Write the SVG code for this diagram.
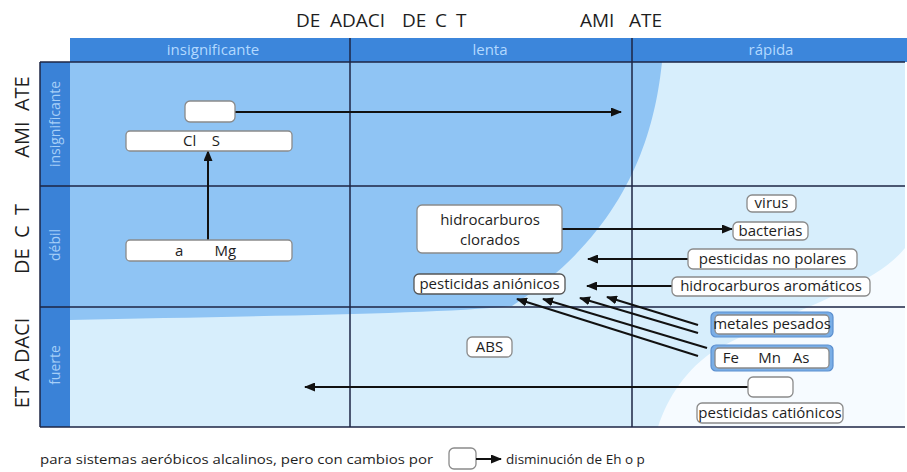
<svg xmlns="http://www.w3.org/2000/svg" width="907" height="472" viewBox="0 0 907 472">
<style>
text{font-family:"Open Sans","Liberation Sans",sans-serif;fill:#1e1e1e}
.title{font-size:19px}
.axis{font-size:20px}
.hdr{font-size:15px;fill:#b3d9ff}
.side{font-size:14px;fill:#a6cff7}
.lbl{font-size:15px}
.box{fill:#fff;stroke:#8a8a8a;stroke-width:1.3}
.dbox{fill:#fff;stroke:#555;stroke-width:1.3}
.grid{stroke:#1c2545;stroke-width:1.5;fill:none}
.conn{stroke:#111;stroke-width:2;fill:none}
</style>
<defs>
<marker id="ah" markerUnits="userSpaceOnUse" markerWidth="11" markerHeight="9" viewBox="0 0 11 9" refX="10" refY="4.5" orient="auto">
<path d="M0,0 L11,4.5 L0,9 z" fill="#111"/>
</marker>
</defs>
<rect x="0" y="0" width="907" height="472" fill="#fff"/>
<g id="title">
<text class="title" y="27" xml:space="preserve"><tspan x="296">DE </tspan><tspan x="330">ADACI </tspan><tspan x="402">DE </tspan><tspan x="435">C </tspan><tspan x="456">T </tspan><tspan x="580">AMI </tspan><tspan x="629">ATE</tspan></text>
</g>
<g id="axis-left">
<text class="axis" transform="translate(29,117) rotate(-90)" text-anchor="middle" xml:space="preserve">AMI  ATE</text>
<text class="axis" transform="translate(29,239) rotate(-90)" text-anchor="middle" xml:space="preserve">DE  C  T</text>
<text class="axis" transform="translate(29,363) rotate(-90)" text-anchor="middle" xml:space="preserve">ET A DACI</text>
</g>
<g id="background">
<rect x="70" y="62" width="835" height="365" fill="#8fc4f4"/>
<path d="M662,62 C655,130 630,230 512,306 C440,314 250,316 70,320 L70,427 L905,427 L905,62 Z" fill="#d7eefc"/>
<path d="M905,248 C872,290 770,318 712,352 C680,375 665,405 658,427 L905,427 Z" fill="#f6fbff"/>
<rect x="70" y="38" width="837" height="24" fill="#3c86db"/>
<rect x="40" y="62" width="30" height="365" fill="#3a82d7"/>
</g>
<g id="grid">
<line class="grid" x1="40" y1="62" x2="905" y2="62"/>
<line class="grid" x1="40" y1="186" x2="905" y2="186"/>
<line class="grid" x1="40" y1="307" x2="905" y2="307"/>
<line class="grid" x1="40" y1="427" x2="905" y2="427"/>
<line class="grid" x1="40" y1="62" x2="40" y2="427"/>
<line class="grid" x1="350" y1="38" x2="350" y2="427"/>
<line class="grid" x1="632" y1="38" x2="632" y2="427"/>
</g>
<g id="headers">
<text class="hdr" x="213" y="55" text-anchor="middle">insignificante</text>
<text class="hdr" x="490" y="55" text-anchor="middle">lenta</text>
<text class="hdr" x="771" y="55" text-anchor="middle">rápida</text>
<text class="side" transform="translate(60,124) rotate(-90)" text-anchor="middle">insignificante</text>
<text class="side" transform="translate(60,245) rotate(-90)" text-anchor="middle">débil</text>
<text class="side" transform="translate(60,365) rotate(-90)" text-anchor="middle">fuerte</text>
</g>
<g id="connectors">
<line class="conn" x1="235" y1="112" x2="621" y2="112" marker-end="url(#ah)"/>
<line class="conn" x1="208" y1="240" x2="208" y2="151" marker-end="url(#ah)"/>
<line class="conn" x1="562" y1="229" x2="732" y2="229" marker-end="url(#ah)"/>
<line class="conn" x1="688" y1="259" x2="588" y2="259" marker-end="url(#ah)"/>
<line class="conn" x1="672" y1="286" x2="587" y2="286" marker-end="url(#ah)"/>
<line class="conn" x1="698" y1="325" x2="607" y2="297" marker-end="url(#ah)"/>
<line class="conn" x1="698" y1="333" x2="580" y2="298" marker-end="url(#ah)"/>
<line class="conn" x1="707" y1="348" x2="543" y2="299" marker-end="url(#ah)"/>
<line class="conn" x1="698" y1="356" x2="517" y2="299" marker-end="url(#ah)"/>
<line class="conn" x1="748" y1="387" x2="305" y2="387" marker-end="url(#ah)"/>
</g>
<g id="n-empty1"><rect class="box" x="185" y="101" width="50" height="21" rx="5"/></g>
<g id="n-cls"><rect class="box" x="126" y="131" width="166" height="20" rx="4"/>
<text class="lbl" x="183" y="146" xml:space="preserve">Cl    S</text></g>
<g id="n-camg"><rect class="box" x="126" y="240" width="166" height="21" rx="4"/>
<text class="lbl" x="175" y="256" xml:space="preserve">a        Mg</text></g>
<g id="n-hidroclor"><rect class="box" x="417" y="205" width="145" height="48" rx="5"/>
<text class="lbl" x="490" y="225" text-anchor="middle">hidrocarburos</text>
<text class="lbl" x="490" y="245" text-anchor="middle">clorados</text></g>
<g id="n-pestan"><rect class="dbox" x="414" y="274" width="151" height="20" rx="5"/>
<text class="lbl" x="489.5" y="289" text-anchor="middle">pesticidas aniónicos</text></g>
<g id="n-virus"><rect class="box" x="747" y="195" width="49" height="17" rx="5"/>
<text class="lbl" x="771.5" y="208" text-anchor="middle">virus</text></g>
<g id="n-bact"><rect class="box" x="733" y="222" width="75" height="18" rx="5"/>
<text class="lbl" x="770.5" y="236" text-anchor="middle">bacterias</text></g>
<g id="n-pestnp"><rect class="box" x="688" y="249" width="169" height="20" rx="5"/>
<text class="lbl" x="772.5" y="264" text-anchor="middle">pesticidas no polares</text></g>
<g id="n-hidroarom"><rect class="box" x="672" y="277" width="198" height="19" rx="5"/>
<text class="lbl" x="771" y="291" text-anchor="middle">hidrocarburos aromáticos</text></g>
<g id="n-metales"><rect x="711" y="312" width="122" height="25" rx="5" fill="#7aaee6" stroke="#5b8fcf" stroke-width="1.2"/>
<rect class="box" x="715" y="315" width="114" height="19" rx="4"/>
<text class="lbl" x="772" y="329" text-anchor="middle">metales pesados</text></g>
<g id="n-femnas"><rect x="711" y="345" width="122" height="26" rx="5" fill="#7aaee6" stroke="#5b8fcf" stroke-width="1.2"/>
<rect class="box" x="715" y="348" width="114" height="20" rx="4"/>
<text class="lbl" x="766" y="363" text-anchor="middle" xml:space="preserve">Fe     Mn   As</text></g>
<g id="n-abs"><rect class="box" x="467" y="337" width="45" height="20" rx="5"/>
<text class="lbl" x="489.5" y="352" text-anchor="middle">ABS</text></g>
<g id="n-empty2"><rect class="box" x="748" y="377" width="45" height="20" rx="5"/></g>
<g id="n-pestcat"><rect class="box" x="697" y="403" width="146" height="20" rx="5"/>
<text class="lbl" x="770" y="418" text-anchor="middle">pesticidas catiónicos</text></g>
<g id="legend">
<text x="40" y="464" style="font-size:13.5px" textLength="393" lengthAdjust="spacingAndGlyphs">para sistemas aeróbicos alcalinos, pero con cambios por</text>
<rect class="box" x="449" y="448" width="27" height="21" rx="5"/>
<line class="conn" x1="476" y1="459" x2="501" y2="459" marker-end="url(#ah)"/>
<text x="506" y="464" style="font-size:13.5px">disminución de Eh o p</text>
</g>
</svg>
